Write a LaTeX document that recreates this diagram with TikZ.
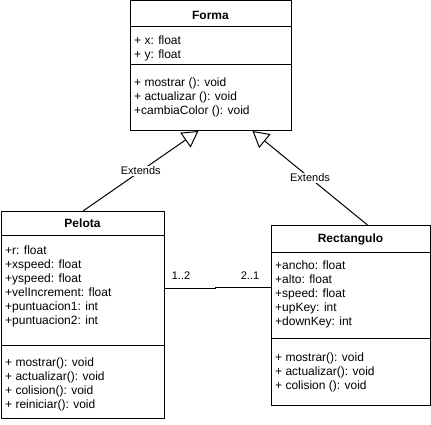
\documentclass[tikz,border=0pt]{standalone}
\usepackage{fontspec}
\setmainfont{Liberation Sans}
\usetikzlibrary{arrows.meta}
\tikzset{
  classbox/.style={draw, line width=1pt, anchor=north west, inner sep=0pt},
  member/.style={anchor=base west, inner sep=0pt, font=\fontsize{12}{14}\selectfont},
  classname/.style={anchor=base, inner sep=0pt, font=\fontsize{12}{14}\selectfont\bfseries},
  inherit/.style={line width=1pt, -{Triangle[open, length=16pt, width=18pt]}},
  lbl/.style={fill=white, inner sep=1pt, font=\fontsize{11}{13}\selectfont},
}
\begin{document}
\begin{tikzpicture}[x=1pt, y=-1pt]
\useasboundingbox (0,0) rectangle (431,424);
% Forma
\node[classbox, minimum width=161pt, minimum height=130pt] (forma) at (130,0) {};
\node[classname] (formaname) at (210.5,19.5) {Forma};
\draw[line width=1pt] ([yshift=-26]forma.north west) -- ([yshift=-26]forma.north east);
\draw[line width=1pt] ([yshift=-64]forma.north west) -- ([yshift=-64]forma.north east);
\foreach \t [count=\i from 0] in {+ x: float, + y: float}
  \node[member] (formaattr\i) at (134,44+14*\i) {\t};
\foreach \t [count=\i from 0] in {+ mostrar (): void, + actualizar (): void, +cambiaColor (): void}
  \node[member] (formaop\i) at (134,86+14*\i) {\t};
% Pelota
\node[classbox, minimum width=163pt, minimum height=207pt] (pelota) at (1,211) {};
\node[classname] (pelotaname) at (82.5,227.5) {Pelota};
\draw[line width=1pt] ([yshift=-24]pelota.north west) -- ([yshift=-24]pelota.north east);
\draw[line width=1pt] ([yshift=-134]pelota.north west) -- ([yshift=-134]pelota.north east);
\foreach \t [count=\i from 0] in {+r: float, +xspeed: float, +yspeed: float, +velIncrement: float, +puntuacion1: int, +puntuacion2: int}
  \node[member] (pelotaattr\i) at (5,254+14*\i) {\t};
\foreach \t [count=\i from 0] in {+ mostrar(): void, + actualizar(): void, + colision(): void, + reiniciar(): void}
  \node[member] (pelotaop\i) at (5,366+14*\i) {\t};
% Rectangulo
\node[classbox, minimum width=159pt, minimum height=180pt] (rectangulo) at (271,225) {};
\node[classname] (rectname) at (350.5,242.5) {Rectangulo};
\draw[line width=1pt] ([yshift=-27]rectangulo.north west) -- ([yshift=-27]rectangulo.north east);
\draw[line width=1pt] ([yshift=-113]rectangulo.north west) -- ([yshift=-113]rectangulo.north east);
\foreach \t [count=\i from 0] in {+ancho: float, +alto: float, +speed: float, +upKey: int, +downKey: int}
  \node[member] (rectattr\i) at (275,269+14*\i) {\t};
\foreach \t [count=\i from 0] in {+ mostrar(): void, + actualizar(): void, + colision (): void}
  \node[member] (rectop\i) at (275,361+14*\i) {\t};
% connectors
\draw[inherit] (pelota.north) -- node[lbl] {Extends} ([xshift=-12.5]forma.south);
\draw[inherit] ([xshift=16.5]rectangulo.north) -- node[lbl] {Extends} ([xshift=41.5]forma.south);
\draw[line width=1pt] ([yshift=26.5]pelota.east) -- ++(50,0) -- ++(0,-1) -- ([yshift=28]rectangulo.west);
\node[lbl, fill=none, anchor=base] (multpelota) at (181,279) {1..2};
\node[lbl, fill=none, anchor=base] (multrect) at (250,279) {2..1};
\end{tikzpicture}
\end{document}
